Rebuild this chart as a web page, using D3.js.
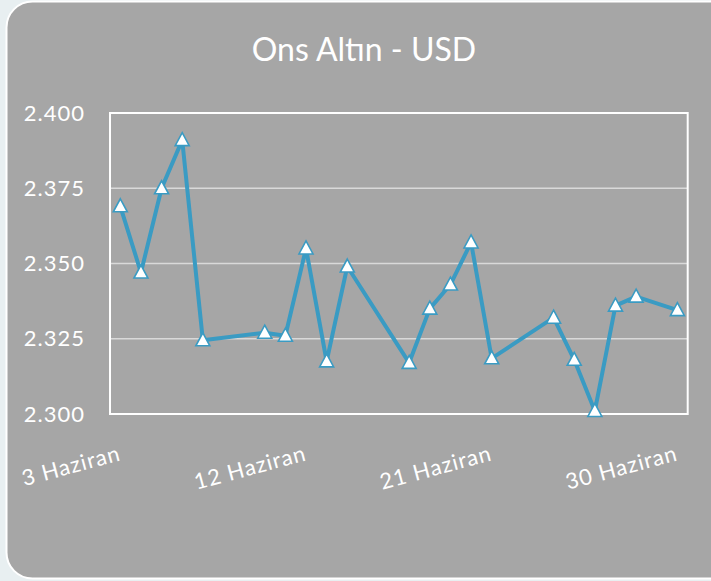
<!DOCTYPE html>
<html>
<head>
<meta charset="utf-8">
<title>Ons Altın - USD</title>
<script src="https://d3js.org/d3.v7.min.js"></script>
<style>
  body { margin: 0; background: #e8eff1; }
  svg text { font-family: Lato, sans-serif; fill: #fff; }
</style>
</head>
<body>
<svg width="711" height="581"></svg>
<script>
// gold ounce price in USD (thousands) by day of June
var days = [3, 4, 5, 6, 7, 10, 11, 12, 13, 14, 17, 18, 19, 20, 21, 24, 25, 26, 27, 28, 30];
var prices = [2.369, 2.347, 2.375, 2.391, 2.3245, 2.327, 2.326, 2.355, 2.3175, 2.349,
              2.317, 2.335, 2.343, 2.357, 2.3185, 2.332, 2.318, 2.301, 2.336, 2.339, 2.3345];
var tickDays = [3, 12, 21, 30];
var yTicks = [2.300, 2.325, 2.350, 2.375, 2.400];

var svg = d3.select("svg");

// card
svg.append("rect")
    .attr("x", 6.5).attr("y", 1.5)
    .attr("width", 730).attr("height", 577)
    .attr("rx", 26)
    .attr("fill", "#a6a6a6")
    .attr("stroke", "#fff")
    .attr("stroke-width", 2);

svg.append("text")
    .attr("x", 364).attr("y", 61)
    .attr("text-anchor", "middle")
    .style("font-size", "32px")
    .text("Ons Altın - USD");

var pLeft = 110, pRight = 687.7, pTop = 113, pBottom = 414;

var day = function(d) { return new Date(2024, 5, d); };
var x = d3.scaleTime()
    .domain([new Date(2024, 5, 2, 12), new Date(2024, 5, 30, 12)])
    .range([pLeft, pRight]);
var y = d3.scaleLinear().domain([2.3, 2.4]).range([pBottom, pTop]);

var fmt = d3.format(".3f");

// gridlines
svg.append("g")
    .selectAll("line")
    .data(yTicks.slice(1, 4))
    .enter().append("line")
      .attr("x1", pLeft).attr("x2", pRight)
      .attr("y1", function(d) { return y(d); })
      .attr("y2", function(d) { return y(d); })
      .attr("stroke", "#d9d9d9")
      .attr("stroke-width", 1.5);

// plot border
svg.append("rect")
    .attr("x", pLeft).attr("y", pTop)
    .attr("width", pRight - pLeft).attr("height", pBottom - pTop)
    .attr("fill", "none")
    .attr("stroke", "#fff")
    .attr("stroke-width", 2);

// y axis
var yAxis = svg.append("g")
    .attr("transform", "translate(85,0)")
    .call(d3.axisLeft(y).tickValues(yTicks).tickSize(0).tickPadding(0).tickFormat(fmt));
yAxis.select(".domain").remove();
yAxis.selectAll("text")
    .style("font-size", "22px")
    .style("letter-spacing", "1px")
    .attr("fill", "#fff");

// x axis labels
var xAxis = svg.append("g")
    .attr("transform", "translate(0," + pBottom + ")")
    .call(d3.axisBottom(x).tickValues(tickDays.map(day)).tickSize(0)
          .tickFormat(function(d) { return d.getDate() + " Haziran"; }));
xAxis.select(".domain").remove();
xAxis.selectAll("text")
    .style("font-size", "22px")
    .style("letter-spacing", "1px")
    .attr("fill", "#fff")
    .attr("text-anchor", "end")
    .attr("y", 0)
    .attr("dy", 0)
    .attr("transform", "translate(1,46) rotate(-15)");

// line
var pts = days.map(function(d, i) { return {date: day(d), v: prices[i]}; });
var line = d3.line()
    .x(function(d) { return x(d.date); })
    .y(function(d) { return y(d.v); });

svg.append("path")
    .datum(pts)
    .attr("fill", "none")
    .attr("stroke", "#3a9bc3")
    .attr("stroke-width", 4)
    .attr("stroke-linejoin", "round")
    .attr("d", line);

svg.append("g")
    .selectAll("path")
    .data(pts)
    .enter().append("path")
      .attr("transform", function(d) { return "translate(" + x(d.date) + "," + y(d.v) + ")"; })
      .attr("d", "M0,-7.5L7,5.5L-7,5.5Z")
      .attr("fill", "#fff")
      .attr("stroke", "#3a9bc3")
      .attr("stroke-width", 1.6)
      .attr("stroke-linejoin", "miter");
</script>
</body>
</html>
